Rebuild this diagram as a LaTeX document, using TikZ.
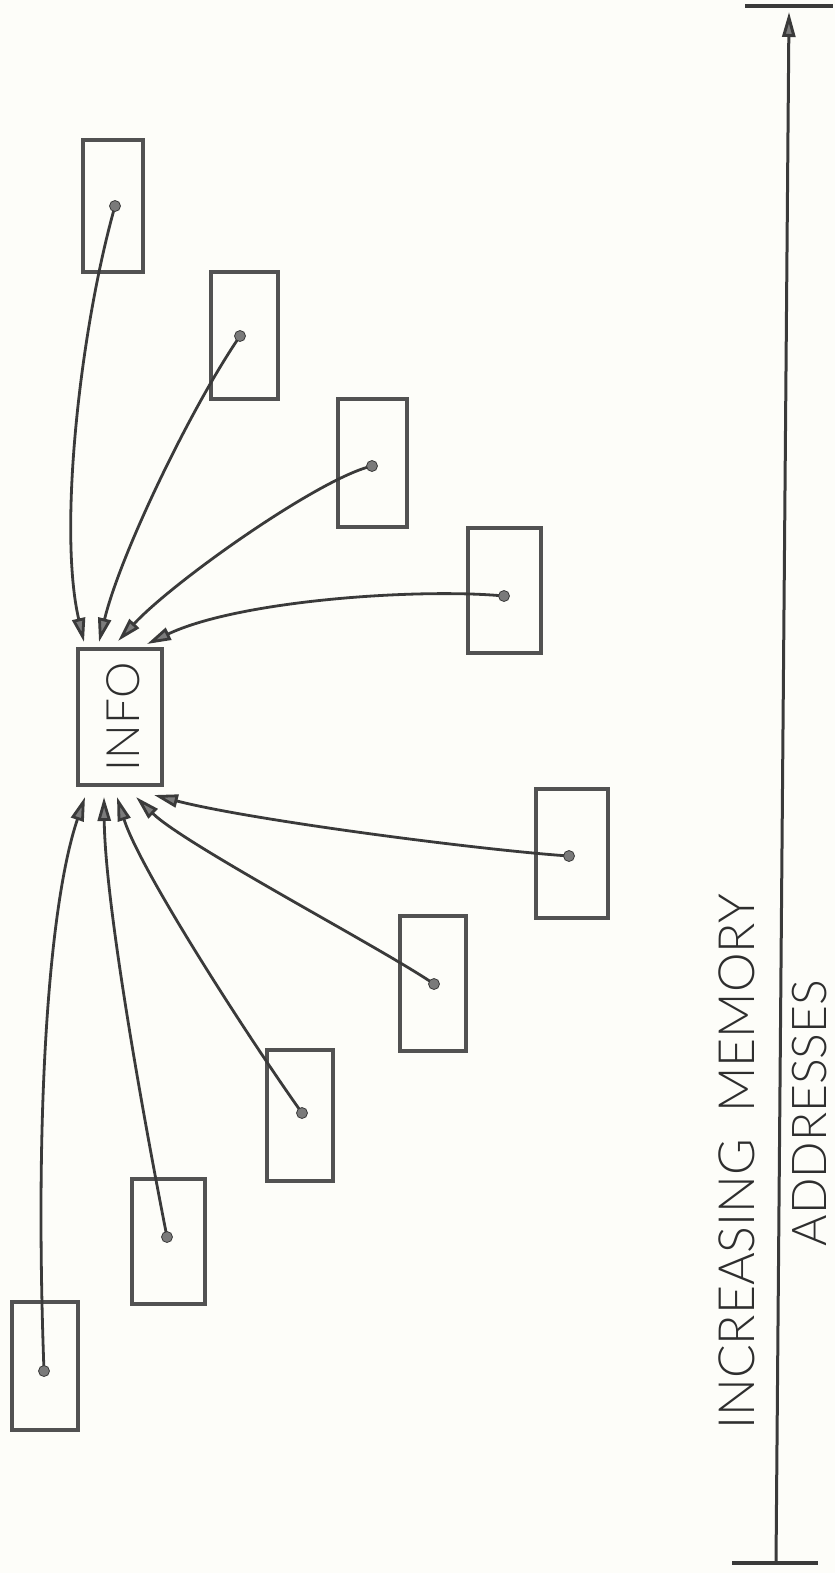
\documentclass[tikz,border=0pt]{standalone}
\usepackage{fontspec}
\setmainfont{Lato Light}
\usetikzlibrary{arrows.meta,calc}
\definecolor{ink}{HTML}{3A3A3A}
\definecolor{boxink}{HTML}{525252}
\definecolor{headfill}{HTML}{7C7C7C}
\definecolor{dotfill}{HTML}{7A7A7A}
\definecolor{txt}{HTML}{2E2E2E}
\definecolor{paper}{HTML}{FDFDF9}
\begin{document}
\begin{tikzpicture}[x=1pt,y=-1pt,
  cell/.style={draw=boxink,line width=3.2pt,inner sep=0pt,rectangle},
  ptrdot/.style={circle,fill=dotfill,draw=ink,line width=0.8pt,minimum size=11pt,inner sep=0pt},
  ptr/.style={draw=ink,line width=2.8pt,-{Triangle[length=24pt,width=13pt,fill=headfill]}},
  axisline/.style={draw=ink,line width=3pt,-{Triangle[length=25pt,width=13pt,fill=headfill]}},
  tickline/.style={draw=ink,line width=3.4pt},
  lbl/.style={text=txt,inner sep=0pt,rotate=90}
  ]
\fill[paper] (0,0) rectangle (835,1573);
\useasboundingbox (0,0) rectangle (835,1573);

% boxes
\node[cell,minimum width=60pt,minimum height=132pt] (b1) at (113,206) {};
\node[cell,minimum width=67pt,minimum height=127pt] (b2) at (244.5,335.5) {};
\node[cell,minimum width=69pt,minimum height=128pt] (b3) at (372.5,463) {};
\node[cell,minimum width=73pt,minimum height=125pt] (b4) at (504.5,590.5) {};
\node[cell,minimum width=84pt,minimum height=136pt] (info) at (120,717) {};
\node[lbl,font=\fontsize{46}{46}\selectfont] (infotext) at (123,717) {INFO};
\node[cell,minimum width=72pt,minimum height=129pt] (b5) at (572,853.5) {};
\node[cell,minimum width=66pt,minimum height=135pt] (b6) at (433,983.5) {};
\node[cell,minimum width=66pt,minimum height=131pt] (b7) at (300,1115.5) {};
\node[cell,minimum width=73pt,minimum height=125pt] (b8) at (168.5,1241.5) {};
\node[cell,minimum width=66pt,minimum height=128pt] (b9) at (45,1366) {};

% dot positions
\coordinate (c1) at (115,206);
\coordinate (c2) at (240,336);
\coordinate (c3) at (372,466);
\coordinate (c4) at (504,596);
\coordinate (c5) at (569,856);
\coordinate (c6) at (434,984);
\coordinate (c7) at (302,1113);
\coordinate (c8) at (167,1237);
\coordinate (c9) at (44,1371);

% arrow tips at INFO
\coordinate (t1) at (84,642);
\coordinate (t2) at (99,642);
\coordinate (t3) at (118,641);
\coordinate (t4) at (147,644);
\coordinate (t5) at (154,795);
\coordinate (t6) at (136,797);
\coordinate (t7) at (117,797);
\coordinate (t8) at (104,797);
\coordinate (t9) at (85,797);

% connectors
\draw[ptr] (c1) .. controls (80,330) and (58,530) .. (t1);
\draw[ptr] (c2) .. controls (192,406) and (121,552) .. (t2);
\draw[ptr] (c3) .. controls (320,478) and (175,580) .. (t3);
\draw[ptr] (c4) .. controls (420,588) and (240,600) .. (t4);
\draw[ptr] (c5) .. controls (480,850) and (250,820) .. (t5);
\draw[ptr] (c6) .. controls (385,950) and (185,845) .. (t6);
\draw[ptr] (c7) .. controls (250,1040) and (140,870) .. (t7);
\draw[ptr] (c8) .. controls (140,1100) and (105,900) .. (t8);
\draw[ptr] (c9) .. controls (34,1100) and (50,900) .. (t9);

% dots
\foreach \i in {1,...,9} {\node[ptrdot] (d\i) at (c\i) {};}

% axis
\coordinate (axlo) at (776,1563);
\coordinate (axhi) at (789,12);
\coordinate (tkta) at (745,6);
\coordinate (tktb) at (833,6);
\coordinate (tkba) at (732,1563);
\coordinate (tkbb) at (818,1563);
\draw[axisline] (axlo) -- (axhi);
\draw[tickline] (tkta) -- (tktb);
\draw[tickline] (tkba) -- (tkbb);

% labels
\node[lbl,font=\fontsize{50}{50}\selectfont] (incr) at (736.5,1162) {INCREASING\hspace{0.25em} MEMORY};
\node[lbl,font=\fontsize{48}{48}\selectfont] (addr) at (810,1113) {ADDRESSES};
\end{tikzpicture}
\end{document}
